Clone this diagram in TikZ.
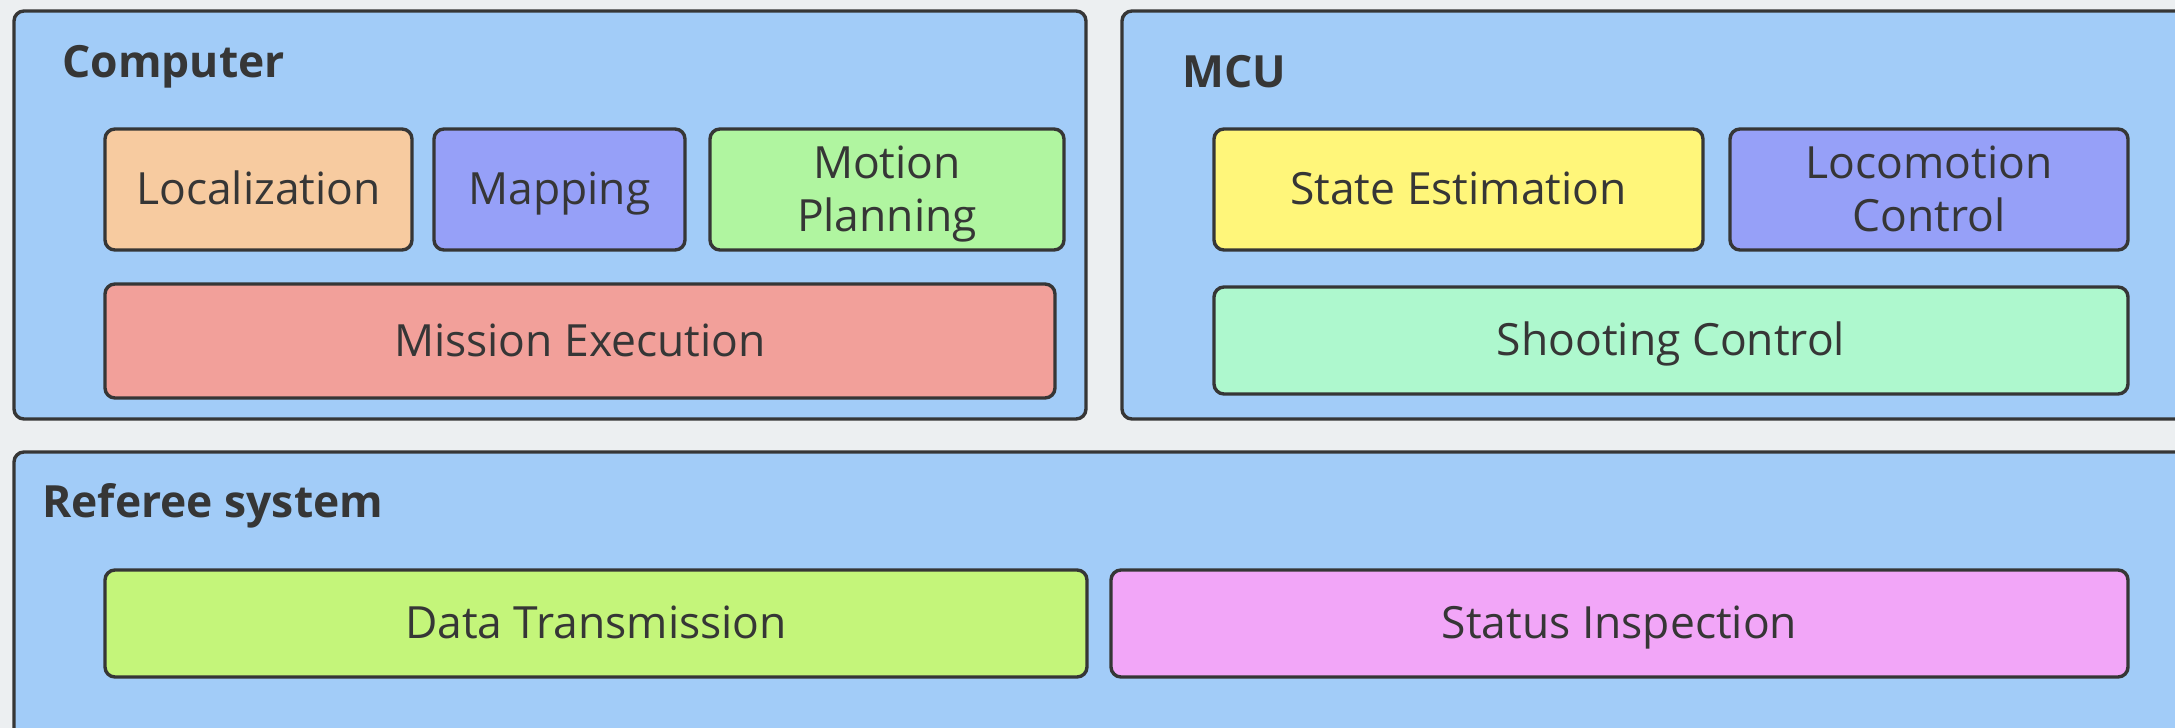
\documentclass[tikz,border=0pt]{standalone}
\usepackage{fontspec}
\setmainfont{Open Sans}
\definecolor{bgc}{HTML}{ECEFF1}
\definecolor{panelc}{HTML}{A2CCF8}
\definecolor{edgec}{HTML}{363636}
\definecolor{txtc}{HTML}{363636}
\definecolor{peach}{HTML}{F7CBA0}
\definecolor{lavender}{HTML}{96A0F8}
\definecolor{mint}{HTML}{B0F5A0}
\definecolor{salmon}{HTML}{F2A09A}
\definecolor{lemon}{HTML}{FFF67A}
\definecolor{aqua}{HTML}{AEF8CE}
\definecolor{lime}{HTML}{C4F57A}
\definecolor{orchid}{HTML}{F2A6F8}
\tikzset{
  panel/.style={draw=edgec, line width=1.7pt, rounded corners=5pt, fill=panelc, inner sep=0pt},
  blk/.style={draw=edgec, line width=1.7pt, rounded corners=5pt, inner sep=0pt,
    text=txtc, font=\fontsize{22.2}{26.5}\selectfont, align=center},
  oneline/.style={text height=17pt, text depth=2pt},
  twoline/.style={text height=44pt, text depth=2pt},
  ptitle/.style={text=txtc, font=\fontsize{22.2}{26}\selectfont\bfseries, inner sep=0pt, anchor=base west}
}
% block given by its corners in pixel units; #8 holds extra keys
\newcommand\blk[8][]{\node[blk, #8, fill=#7, minimum width={(#5-#3)*0.5pt}, minimum height={(#6-#4)*0.5pt}] (#2) at ({(#3+#5)/2},{(#4+#6)/2}) {#1};}
\newcommand\pnl[5]{\node[panel, minimum width={(#4-#2)*0.5pt}, minimum height={(#5-#3)*0.5pt}] (#1) at ({(#2+#4)/2},{(#3+#5)/2}) {};}
\begin{document}
\begin{tikzpicture}[x=0.5pt,y=-0.5pt]
\useasboundingbox (0,0) rectangle (2175,728);
\clip (0,0) rectangle (2175,728);
\fill[bgc] (0,0) rectangle (2175,728);

% panels
\pnl{computer}{14}{11}{1086}{419}
\pnl{mcu}{1122}{11}{2210}{419}
\pnl{referee}{14}{452}{2210}{770}

\node[ptitle] (computerT) at (62,77) {Computer};
\node[ptitle] (mcuT) at (1182,87) {MCU};
\node[ptitle] (refereeT) at (42,517) {Referee system};

% computer blocks
\blk[Localization]{loc}{105}{129}{412}{250}{peach}{oneline}
\blk[Mapping]{map}{434}{129}{685}{250}{lavender}{oneline}
\blk[Motion\\Planning]{plan}{710}{129}{1064}{250}{mint}{twoline}
\blk[Mission Execution]{mission}{105}{284}{1055}{398}{salmon}{oneline}

% MCU blocks
\blk[State Estimation]{state}{1214}{129}{1703}{250}{lemon}{oneline}
\blk[Locomotion\\Control]{loco}{1730}{129}{2128}{250}{lavender}{twoline}
\blk[Shooting Control]{shoot}{1214}{287}{2128}{394}{aqua}{oneline}

% referee blocks
\blk[Data Transmission]{data}{105}{570}{1087}{677}{lime}{oneline}
\blk[Status Inspection]{status}{1111}{570}{2128}{677}{orchid}{oneline}
\end{tikzpicture}
\end{document}
